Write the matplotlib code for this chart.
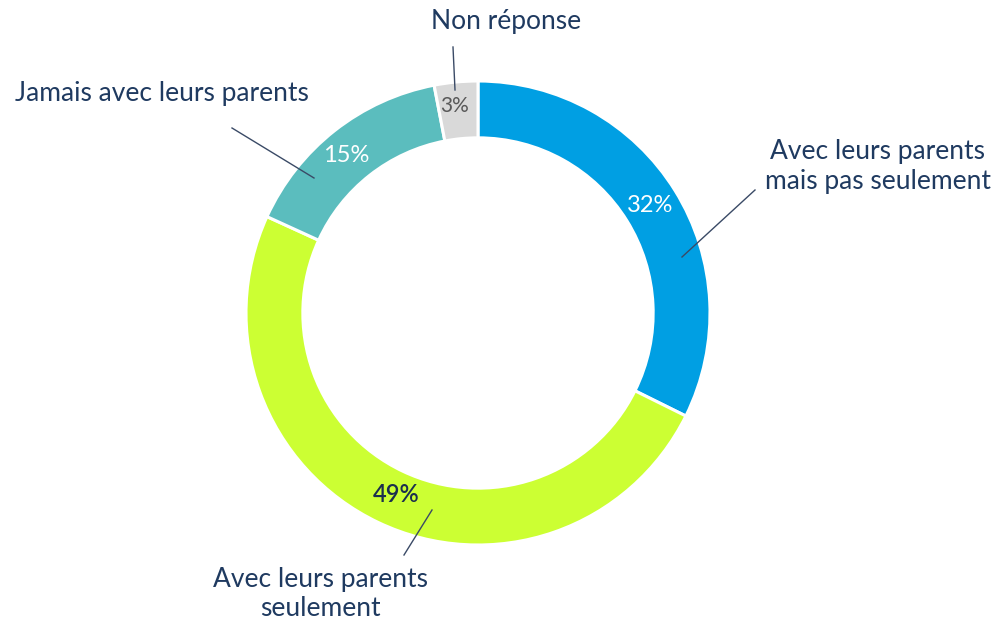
import numpy as np
import matplotlib
matplotlib.use('Agg')
import matplotlib.pyplot as plt

plt.rcParams['font.family'] = ['Lato', 'DejaVu Sans']

# data (clockwise from top)
categories = ['Avec leurs parents\nmais pas seulement', 'Avec leurs parents\nseulement',
              'Jamais avec leurs parents', 'Non réponse']
values = [32, 49, 15, 3]
pct_labels = ['32%', '49%', '15%', '3%']
colors = ['#009FE3', '#CCFF33', '#5BBDBE', '#D9D9D9']
pct_colors = ['white', '#1B2F4E', 'white', '#595959']
pct_weights = ['normal', 'semibold', 'normal', 'normal']

W, H = 996, 623
CX, CY, R = 478, 313, 232   # centre and radius in pixels


def px(x, y):
    # pixel position -> data coords (radius = 1)
    return (x - CX) / R, (CY - y) / R


fig = plt.figure(figsize=(W / 100, H / 100), dpi=100)
ax = fig.add_axes([0, 0, 1, 1])

ax.pie(values, colors=colors, startangle=90, counterclock=False, radius=1,
       wedgeprops=dict(width=0.245, edgecolor='white', linewidth=2.2))

ax.set_xlim(-CX / R, (W - CX) / R)
ax.set_ylim(-(H - CY) / R, CY / R)
ax.set_aspect('equal')
ax.axis('off')

navy = '#1F3A60'
line_col = '#3A4A66'

# percentage labels inside ring
pct_pos = [(650, 205), (396, 495), (346, 156), (455, 106)]
pct_sizes = [17, 17, 17, 15]
for lab, (x, y), c, w, s in zip(pct_labels, pct_pos, pct_colors, pct_weights, pct_sizes):
    ax.text(*px(x, y), lab, color=c, fontsize=s, fontweight=w,
            ha='center', va='center')

# leader lines
leaders = [((755, 190), (682, 257)), ((432, 510), (404, 555)),
           ((232, 128), (314, 178)), ((453, 47), (455, 90))]
for (x0, y0), (x1, y1) in leaders:
    a, b = px(x0, y0)
    c, d = px(x1, y1)
    ax.plot([a, c], [b, d], color=line_col, lw=1)

# category labels
cat_pos = [(878, 167, 'center'), (320, 594, 'center'),
           (15, 93, 'left'), (506, 22, 'center')]
for lab, (x, y, ha) in zip(categories, cat_pos):
    ax.text(*px(x, y), lab, color=navy, fontsize=19, ha=ha, va='center',
            multialignment='center', linespacing=1.25)

fig.savefig('out.png', dpi=100)
